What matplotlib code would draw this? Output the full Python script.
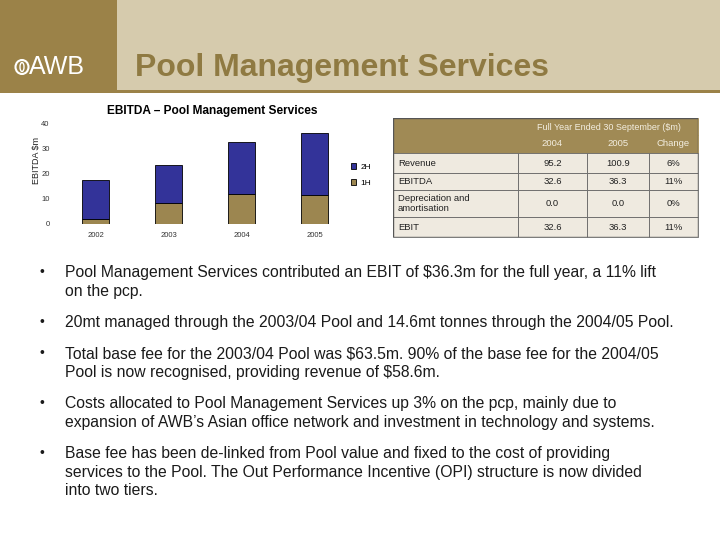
import matplotlib
matplotlib.use("Agg")
import matplotlib.pyplot as plt
from matplotlib.patches import Rectangle, Ellipse

# chart data (EBITDA $m)
years = ["2002", "2003", "2004", "2005"]
first_half = [2.0, 8.2, 11.8, 11.4]
second_half = [15.3, 15.2, 20.8, 24.9]

# table data
table_years = ["2004", "2005", "Change"]
row_labels = ["Revenue", "EBITDA", "Depreciation and\namortisation", "EBIT"]
val_2004 = ["95.2", "32.6", "0.0", "32.6"]
val_2005 = ["100.9", "36.3", "0.0", "36.3"]
changes = ["6%", "11%", "0%", "11%"]

bullets = [
    "Pool Management Services contributed an EBIT of $36.3m for the full year, a 11% lift\non the pcp.",
    "20mt managed through the 2003/04 Pool and 14.6mt tonnes through the 2004/05 Pool.",
    "Total base fee for the 2003/04 Pool was $63.5m. 90% of the base fee for the 2004/05\nPool is now recognised, providing revenue of $58.6m.",
    "Costs allocated to Pool Management Services up 3% on the pcp, mainly due to\nexpansion of AWB\u2019s Asian office network and investment in technology and systems.",
    "Base fee has been de-linked from Pool value and fixed to the cost of providing\nservices to the Pool. The Out Performance Incentive (OPI) structure is now divided\ninto two tiers.",
]
bullet_y = [272, 322, 353, 403, 453]

W, H = 720, 540
plt.rcParams['font.family'] = ['Liberation Sans', 'DejaVu Sans']
fig = plt.figure(figsize=(7.2, 5.4), dpi=100)


def box(x0, y0, x1, y1):
    # pixel box (top-left origin) -> figure fraction rect
    return [x0 / W, 1 - y1 / H, (x1 - x0) / W, (y1 - y0) / H]


def fx(x):
    return x / W


def fy(y):
    return 1 - y / H


# header band
gold = "#9b8248"
fig.patches.append(Rectangle((0, fy(93)), 1, 93 / H, transform=fig.transFigure,
                             facecolor="#d6cbad", edgecolor="none"))
fig.patches.append(Rectangle((0, fy(93)), fx(117), 93 / H, transform=fig.transFigure,
                             facecolor=gold, edgecolor="none"))
fig.patches.append(Rectangle((0, fy(93)), 1, 3 / H, transform=fig.transFigure,
                             facecolor=gold, edgecolor="none"))
fig.patches.append(Ellipse((fx(22), fy(67)), 13 / W, 14 / H, transform=fig.transFigure,
                           facecolor="none", edgecolor="white", lw=1.5))
fig.patches.append(Ellipse((fx(22), fy(67)), 4 / W, 9 / H, transform=fig.transFigure,
                           facecolor="none", edgecolor="white", lw=1.0))
fig.text(fx(29), fy(67), "AWB", color="white", fontsize=18,
         va="center", ha="left")
fig.text(fx(135), fy(68), "Pool Management Services", color="#8f7a42",
         fontsize=23, fontweight="bold", va="center", ha="left")

# bar chart
ax = fig.add_axes(box(58, 123.3, 351, 224))
x = list(range(len(years)))
ax.bar(x, first_half, width=0.37, color="#9c8650", edgecolor="black", lw=0.6, label="1H")
ax.bar(x, second_half, width=0.37, bottom=first_half, color="#333399",
       edgecolor="black", lw=0.6, label="2H")
ax.set_xlim(-0.52, 3.5)
ax.set_ylim(0, 40)
ax.set_yticks([0, 10, 20, 30, 40])
ax.set_xticks(x)
ax.set_xticklabels(years)
ax.tick_params(length=0, labelsize=5.5, labelcolor="#333333", pad=6)
for s in ax.spines.values():
    s.set_visible(False)
ax.patch.set_alpha(0)
fig.text(fx(36), fy(160), "EBITDA $m", rotation=90, fontsize=6.5, va="center",
         ha="center", color="#222222")
fig.text(fx(107), fy(111), "EBITDA \u2013 Pool Management Services", fontsize=8.6,
         fontweight="bold", va="center", ha="left")
handles, labels = ax.get_legend_handles_labels()
fig.legend(handles[::-1], labels[::-1], loc="center left",
           bbox_to_anchor=(fx(343), fy(175)), frameon=False, fontsize=6,
           handlelength=0.7, handleheight=0.7, labelspacing=0.9, handletextpad=0.5)

# table
tax = fig.add_axes(box(393, 118, 698, 237))
tax.axis("off")
cells = [["", "", "", ""], [""] + table_years]
for i in range(len(row_labels)):
    cells.append([row_labels[i], val_2004[i], val_2005[i], changes[i]])
tbl = tax.table(cellText=cells, bbox=[0, 0, 1, 1], cellLoc="center")
tbl.auto_set_font_size(False)
col_w = [125, 69, 62, 49]
row_h = [17, 18, 20, 17, 27, 20]
for (r, c), cell in tbl.get_celld().items():
    cell.set_width(col_w[c])
    cell.set_height(row_h[r])
    cell.set_linewidth(0.6)
    cell.get_text().set_fontsize(6.8)
    if r < 2:
        cell.set_facecolor("#a08a55")
        cell.set_edgecolor("#a08a55")
        cell.get_text().set_color("#f3eee0")
    else:
        cell.set_facecolor("#efeae0")
        cell.set_edgecolor("#666666")
        cell.get_text().set_color("#222222")
        if c == 0:
            cell.get_text().set_ha("left")
            cell._loc = "left"
            cell.PAD = 0.04
tax.add_patch(Rectangle((0, 0), 1, 1, transform=tax.transAxes, fill=False,
                        edgecolor="#555555", lw=1.0, zorder=5))
fig.text(fx(609), fy(127), "Full Year Ended 30 September ($m)", fontsize=6.5,
         color="#f3eee0", ha="center", va="center")

# bullet points (text box top sits ~7px above the first line's cap centre)
for txt, y in zip(bullets, bullet_y):
    fig.text(fx(40), fy(y), "\u2022", fontsize=10, va="center", ha="left", color="#1a1a1a")
    fig.text(fx(65), fy(y - 7), txt, fontsize=11.3, va="top", ha="left", color="#1a1a1a",
             linespacing=1.3)

fig.savefig("out.png", dpi=100)
